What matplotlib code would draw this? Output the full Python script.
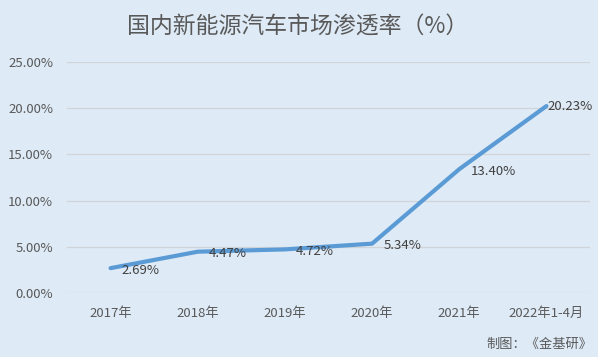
import matplotlib.pyplot as plt
from matplotlib.ticker import FuncFormatter

plt.rcParams['font.family'] = ['Noto Sans CJK SC', 'DejaVu Sans']

years = ['2017年', '2018年', '2019年', '2020年', '2021年', '2022年1-4月']
rate = [2.69, 4.47, 4.72, 5.34, 13.40, 20.23]
labels = ['2.69%', '4.47%', '4.72%', '5.34%', '13.40%', '20.23%']

bg = '#DEEAF6'
grey = '#595959'

fig = plt.figure(figsize=(5.98, 3.57), dpi=100, facecolor=bg)
ax = fig.add_axes([67 / 598, 1 - 293 / 357, (590 - 67) / 598, (293 - 62) / 357])
ax.set_facecolor(bg)

x = list(range(len(years)))
ax.plot(x, rate, color='#5B9BD5', lw=3.0, solid_capstyle='round', zorder=3)
for i, (xi, yi, lab) in enumerate(zip(x, rate, labels)):
    # last label is pushed in by the chart edge, like in the original
    dx = 1 if i == len(x) - 1 else 8
    dy = 0 if i == len(x) - 1 else -1.5
    ax.annotate(lab, (xi, yi), xytext=(dx, dy), textcoords='offset points',
                ha='left', va='center', fontsize=9.5, color='#404040', zorder=4)

ax.set_xlim(-0.5, len(years) - 0.5)
ax.set_ylim(0, 25)
ax.set_yticks([0, 5, 10, 15, 20, 25])
ax.yaxis.set_major_formatter(FuncFormatter(lambda v, p: f'{v:.2f}%'))
ax.set_xticks(x)
ax.set_xticklabels(years)
ax.tick_params(axis='both', length=0, labelsize=9.5, labelcolor=grey)
ax.tick_params(axis='x', pad=10)
ax.tick_params(axis='y', pad=10)
ax.grid(axis='y', color='#D0D4D8', lw=0.9)
ax.set_axisbelow(True)
for s in ax.spines.values():
    s.set_visible(False)

fig.text(298 / 598, 1 - 27 / 357, '国内新能源汽车市场渗透率（%）', ha='center', va='center',
         fontsize=16.5, color=grey)
fig.text(592 / 598, 1 - 344 / 357, '制图：《金基研》', ha='right', va='center',
         fontsize=9.5, color=grey)

fig.savefig('out.png', dpi=100, facecolor=bg)
